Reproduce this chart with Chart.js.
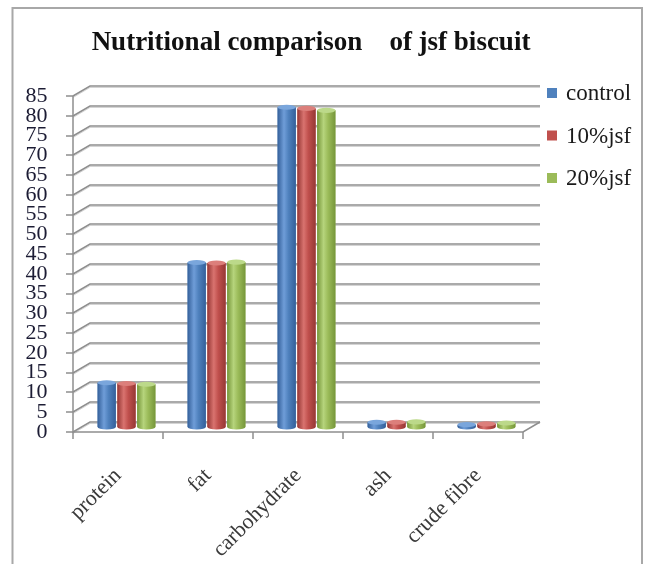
<!DOCTYPE html>
<html>
<head>
<meta charset="utf-8">
<title>Nutritional comparison of jsf biscuit</title>
<script src="https://cdn.jsdelivr.net/npm/chart.js@4.4.0/dist/chart.umd.min.js"></script>
<style>
  html, body { margin: 0; padding: 0; background: #ffffff; }
  #wrap { width: 649px; height: 564px; }
</style>
</head>
<body>
<div id="wrap"><canvas id="chart" width="649" height="564"></canvas></div>
<script>
// ---- data ----
const chartTitle = 'Nutritional comparison    of jsf biscuit';
const categories = ['protein', 'fat', 'carbohydrate', 'ash', 'crude fibre'];
const seriesNames = ['control', '10%jsf', '20%jsf'];
const controlValues = [11.2, 41.6, 80.9, 1.2, 0.6];
const jsf10Values  = [11.0, 41.5, 80.6, 1.2, 0.8];
const jsf20Values  = [10.8, 41.7, 80.1, 1.3, 1.0];
const yTickValues = [0, 5, 10, 15, 20, 25, 30, 35, 40, 45, 50, 55, 60, 65, 70, 75, 80, 85];

// ---- styling ----
const FONT = '"Liberation Serif", "Times New Roman", serif';
const palette = [
  { base: '#4f81bd', dark: '#34609a', light: '#6f9dd8', cap: '#7aa6dc' },
  { base: '#c0504d', dark: '#963835', light: '#d9736f', cap: '#dc7f7b' },
  { base: '#9bbb59', dark: '#76963a', light: '#b6d47c', cap: '#bcd98a' }
];
// half of the depth vector of the 3-D box (front face -> back wall)
const DX = 8.5, DY = 5;

const seriesValues = [controlValues, jsf10Values, jsf20Values];
const datasets = seriesNames.map((name, i) => ({
  label: name,
  data: seriesValues[i],
  backgroundColor: palette[i].base,
  borderWidth: 0,
  categoryPercentage: 0.66,
  barPercentage: 0.92
}));

// frame, box walls, floor and gridlines
const wallPlugin = {
  id: 'walls',
  beforeDraw(chart) {
    const ctx = chart.ctx;
    ctx.save();
    ctx.strokeStyle = '#a8a8a8';
    ctx.lineWidth = 2;
    ctx.strokeRect(12.5, 8, 629.5, 580);
    ctx.restore();
  },
  beforeDatasetsDraw(chart) {
    const ctx = chart.ctx;
    const { left, right, bottom } = chart.chartArea;
    const ys = chart.scales.y;
    const n = categories.length;
    ctx.save();
    // gridlines on side wall and back wall
    yTickValues.forEach(v => {
      const py = Math.round(ys.getPixelForValue(v));
      ctx.strokeStyle = '#d4d4d4';
      ctx.lineWidth = 1;
      ctx.beginPath();
      ctx.moveTo(left - DX, py + DY + 1.5);
      ctx.lineTo(left + DX, py - DY + 1.5);
      ctx.lineTo(right + DX, py - DY + 1.5);
      ctx.stroke();
      ctx.strokeStyle = '#8e8e8e';
      ctx.lineWidth = 1.5;
      ctx.beginPath();
      ctx.moveTo(left - DX, py + DY);
      ctx.lineTo(left + DX, py - DY);
      ctx.lineTo(right + DX, py - DY);
      ctx.stroke();
      // tick mark on the front value axis
      ctx.beginPath();
      ctx.moveTo(left - DX - 7, py + DY);
      ctx.lineTo(left - DX, py + DY);
      ctx.stroke();
    });
    // front value axis
    ctx.strokeStyle = '#8e8e8e';
    ctx.lineWidth = 1.5;
    ctx.beginPath();
    ctx.moveTo(left - DX, ys.getPixelForValue(yTickValues[yTickValues.length - 1]) + DY);
    ctx.lineTo(left - DX, bottom + DY);
    // floor front edge and right edge
    ctx.lineTo(right - DX, bottom + DY);
    ctx.lineTo(right + DX, bottom - DY);
    ctx.stroke();
    // category tick marks
    for (let i = 0; i <= n; i++) {
      const x = left - DX + i * (right - left) / n;
      ctx.beginPath();
      ctx.moveTo(x, bottom + DY);
      ctx.lineTo(x, bottom + DY + 7);
      ctx.stroke();
    }
    ctx.restore();
  },
  // cylinder shading on each bar
  afterDatasetsDraw(chart) {
    const ctx = chart.ctx;
    ctx.save();
    chart.data.datasets.forEach((ds, di) => {
      const meta = chart.getDatasetMeta(di);
      const col = palette[di];
      meta.data.forEach(el => {
        const w = el.width;
        const x0 = el.x - w / 2;
        const ry = Math.max(2, w * 0.14);
        const top = el.y, base = el.base;
        const g = ctx.createLinearGradient(x0, 0, x0 + w, 0);
        g.addColorStop(0, col.dark);
        g.addColorStop(0.35, col.light);
        g.addColorStop(0.6, col.base);
        g.addColorStop(1, col.dark);
        ctx.fillStyle = g;
        ctx.beginPath();
        ctx.moveTo(x0, top);
        ctx.lineTo(x0, base);
        ctx.ellipse(el.x, base, w / 2, ry, 0, Math.PI, 0, true);
        ctx.lineTo(x0 + w, top);
        ctx.closePath();
        ctx.fill();
        ctx.fillStyle = col.cap;
        ctx.beginPath();
        ctx.ellipse(el.x, top, w / 2, ry, 0, 0, Math.PI * 2);
        ctx.fill();
      });
    });
    ctx.restore();
  },
  // title and legend
  afterDraw(chart) {
    const ctx = chart.ctx;
    ctx.save();
    ctx.fillStyle = '#111111';
    ctx.font = 'bold 27px ' + FONT;
    ctx.textAlign = 'center';
    ctx.textBaseline = 'middle';
    ctx.fillText(chartTitle, 311, 43);
    ctx.font = '23px ' + FONT;
    ctx.textAlign = 'left';
    chart.data.datasets.forEach((ds, i) => {
      const cy = 93 + i * 42.5;
      ctx.fillStyle = palette[i].base;
      ctx.fillRect(547, cy - 5, 10, 10);
      ctx.fillStyle = '#1a1a1a';
      ctx.fillText(ds.label, 566, cy + 1);
    });
    ctx.restore();
  }
};

new Chart(document.getElementById('chart'), {
  type: 'bar',
  data: { labels: categories, datasets },
  options: {
    responsive: false,
    animation: false,
    devicePixelRatio: 1,
    layout: { padding: { top: 91, right: 117.5, left: 0, bottom: 0 } },
    plugins: {
      legend: { display: false },
      title: { display: false },
      tooltip: { enabled: false }
    },
    scales: {
      x: {
        grid: { display: false, drawTicks: false },
        border: { display: false },
        ticks: {
          autoSkip: false,
          minRotation: 45,
          maxRotation: 45,
          padding: 36,
          labelOffset: -8.5,
          color: '#3a3a3a',
          font: { family: FONT, size: 22 }
        },
        afterFit(scale) { scale.height = 137; }
      },
      y: {
        min: 0,
        max: 85,
        grid: { display: false, drawTicks: false },
        border: { display: false },
        ticks: {
          autoSkip: false,
          stepSize: 5,
          padding: 34,
          labelOffset: 5,
          color: '#1c1c34',
          font: { family: FONT, size: 22 }
        },
        afterFit(scale) { scale.width = 81.5; }
      }
    }
  },
  plugins: [wallPlugin]
});
</script>
</body>
</html>
